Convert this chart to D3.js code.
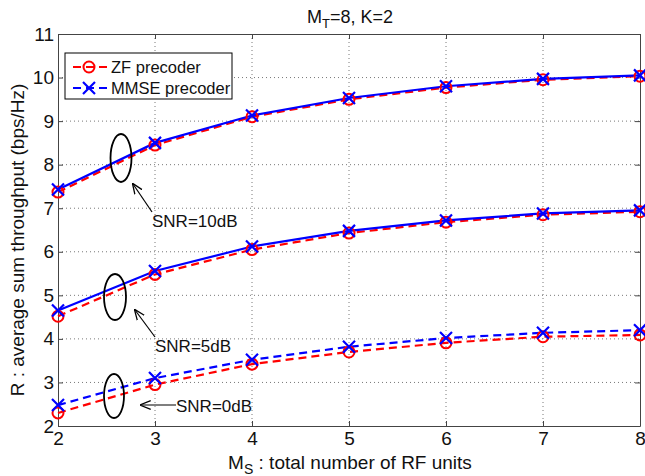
<!DOCTYPE html>
<html>
<head>
<meta charset="utf-8">
<script src="https://cdn.jsdelivr.net/npm/d3@7"></script>
<style>
  body { margin: 0; background: #fff; }
  svg { font-family: "Liberation Sans", Arial, sans-serif; }
</style>
</head>
<body>
<svg width="645" height="476"></svg>
<script>
// x values: number of RF units
const rfUnits = [2, 3, 4, 5, 6, 7, 8];

// ZF / MMSE throughput for each SNR
const zf10 = [7.37, 8.45, 9.10, 9.50, 9.77, 9.95, 10.03];
const mmse10 = [7.43, 8.50, 9.13, 9.53, 9.80, 9.97, 10.05];
const zf5 = [4.52, 5.48, 6.05, 6.43, 6.68, 6.85, 6.92];
const mmse5 = [4.65, 5.56, 6.12, 6.48, 6.72, 6.88, 6.95];
const zf0 = [2.30, 2.95, 3.42, 3.70, 3.91, 4.05, 4.09];
const mmse0 = [2.48, 3.10, 3.52, 3.82, 4.02, 4.14, 4.20];

const xTicks = [2, 3, 4, 5, 6, 7, 8];
const yTicks = [2, 3, 4, 5, 6, 7, 8, 9, 10, 11];

const series = [
  {vals: zf10, type: "zf", dash: true},
  {vals: mmse10, type: "mmse", dash: false},
  {vals: zf5, type: "zf", dash: true},
  {vals: mmse5, type: "mmse", dash: false},
  {vals: zf0, type: "zf", dash: true},
  {vals: mmse0, type: "mmse", dash: true}
];

const margin = {top: 34, left: 58, right: 5, bottom: 50};
const w = 645, h = 476;
const innerWidth = w - margin.left - margin.right;
const innerHeight = h - margin.top - margin.bottom;

const svg = d3.select("svg");
const g = svg.append("g")
  .attr("transform", `translate(${margin.left},${margin.top})`);

const xScale = d3.scaleLinear().domain([2, 8]).range([0, innerWidth]);
const yScale = d3.scaleLinear().domain([2, 11]).range([innerHeight, 0]);

// grid
g.selectAll(".gx").data(xTicks.slice(1, -1)).enter().append("line")
  .attr("x1", d => xScale(d)).attr("x2", d => xScale(d))
  .attr("y1", 0).attr("y2", innerHeight)
  .attr("stroke", "#555").attr("stroke-width", 0.8)
  .attr("stroke-dasharray", "1,3");
g.selectAll(".gy").data(yTicks.slice(1, -1)).enter().append("line")
  .attr("y1", d => yScale(d)).attr("y2", d => yScale(d))
  .attr("x1", 0).attr("x2", innerWidth)
  .attr("stroke", "#555").attr("stroke-width", 0.8)
  .attr("stroke-dasharray", "1,3");

// axes
g.append("g").attr("transform", `translate(0,${innerHeight})`)
  .call(d3.axisBottom(xScale).tickValues(xTicks).tickFormat(d3.format("d"))
    .tickSizeInner(-5).tickSizeOuter(0).tickPadding(6));
g.append("g")
  .call(d3.axisLeft(yScale).tickValues(yTicks).tickFormat(d3.format("d"))
    .tickSizeInner(-5).tickSizeOuter(0).tickPadding(4));
g.append("g").attr("transform", `translate(${innerWidth},0)`)
  .call(d3.axisRight(yScale).tickValues(yTicks).tickFormat("")
    .tickSizeInner(-5).tickSizeOuter(0));
g.append("g")
  .call(d3.axisTop(xScale).tickValues(xTicks).tickFormat("")
    .tickSizeInner(-5).tickSizeOuter(0));
g.selectAll(".domain").attr("stroke", "#444");
g.selectAll(".tick line").attr("stroke", "#444");
g.selectAll(".tick text").attr("fill", "#111").style("font-size", "19px")
  .style("font-family", "Liberation Sans, Arial, sans-serif");

// lines
const line = d3.line()
  .x((d, i) => xScale(rfUnits[i]))
  .y(d => yScale(d));

series.forEach(s => {
  g.append("path")
    .datum(s.vals)
    .attr("d", line)
    .attr("fill", "none")
    .attr("stroke", s.type == "zf" ? "#f00" : "#00f")
    .attr("stroke-width", 2.2)
    .attr("stroke-dasharray", s.dash ? "8,5" : null);
});

function drawMarker(sel, type, x, y) {
  if (type == "zf") {
    sel.append("circle").attr("cx", x).attr("cy", y).attr("r", 5.5)
      .attr("fill", "none").attr("stroke", "#f00").attr("stroke-width", 2);
  } else {
    const s = 6;
    sel.append("path")
      .attr("d", `M${x - s},${y - s}L${x + s},${y + s}M${x - s},${y + s}L${x + s},${y - s}`)
      .attr("stroke", "#00f").attr("stroke-width", 2.2);
  }
}

series.forEach(s => {
  s.vals.forEach((v, i) => drawMarker(g, s.type, xScale(rfUnits[i]), yScale(v)));
});

// annotations: ellipses, arrows, labels
svg.append("defs").append("marker")
  .attr("id", "arr").attr("viewBox", "0 0 10 10")
  .attr("refX", 9).attr("refY", 5)
  .attr("markerWidth", 9).attr("markerHeight", 9)
  .attr("orient", "auto")
  .append("path").attr("d", "M0,1L10,5L0,9").attr("fill", "none")
  .attr("stroke", "#000").attr("stroke-width", 1.2);

const annots = [
  {cx: 121, cy: 158, rx: 10.5, ry: 24, ax1: 152, ay1: 212, ax2: 133, ay2: 184, tx: 152, ty: 227, label: "SNR=10dB"},
  {cx: 115, cy: 297, rx: 11, ry: 23, ax1: 155, ay1: 337, ax2: 135, ay2: 310, tx: 155, ty: 352, label: "SNR=5dB"},
  {cx: 114, cy: 396, rx: 10, ry: 22, ax1: 176, ay1: 405, ax2: 141, ay2: 405, tx: 176, ty: 412, label: "SNR=0dB"}
];
annots.forEach(a => {
  svg.append("ellipse").attr("cx", a.cx).attr("cy", a.cy).attr("rx", a.rx).attr("ry", a.ry)
    .attr("fill", "none").attr("stroke", "#000").attr("stroke-width", 1.8);
  svg.append("line").attr("x1", a.ax1).attr("y1", a.ay1).attr("x2", a.ax2).attr("y2", a.ay2)
    .attr("stroke", "#000").attr("stroke-width", 1.2).attr("marker-end", "url(#arr)");
  svg.append("text").attr("x", a.tx).attr("y", a.ty).text(a.label)
    .style("font-size", "17px").attr("fill", "#111");
});

// legend
const leg = svg.append("g").attr("transform", "translate(65,53)");
leg.append("rect").attr("width", 167).attr("height", 46)
  .attr("fill", "#fff").attr("stroke", "#000").attr("stroke-width", 1);
const legItems = [
  {type: "zf", label: "ZF precoder", y: 14},
  {type: "mmse", label: "MMSE precoder", y: 35}
];
legItems.forEach(d => {
  leg.append("line").attr("x1", 7).attr("x2", 42).attr("y1", d.y).attr("y2", d.y)
    .attr("stroke", d.type == "zf" ? "#f00" : "#00f").attr("stroke-width", 2.2)
    .attr("stroke-dasharray", "8,5").attr("stroke-dashoffset", -1);
  drawMarker(leg, d.type, 24, d.y);
  leg.append("text").attr("x", 46).attr("y", d.y + 6).text(d.label)
    .style("font-size", "16.5px").attr("fill", "#111");
});

// title
const title = svg.append("text").attr("x", 350).attr("y", 23)
  .attr("text-anchor", "middle").style("font-size", "18px").attr("fill", "#111");
title.append("tspan").text("M");
title.append("tspan").text("T").attr("dy", 5).style("font-size", "13px");
title.append("tspan").text("=8, K=2").attr("dy", -5);

// axis labels
const xl = svg.append("text").attr("x", 350).attr("y", 469)
  .attr("text-anchor", "middle").style("font-size", "19px").attr("fill", "#111");
xl.append("tspan").text("M");
xl.append("tspan").text("S").attr("dy", 5).style("font-size", "14px");
xl.append("tspan").text(" : total number of RF units").attr("dy", -5);

svg.append("text")
  .attr("transform", "translate(24,240)rotate(-90)")
  .attr("text-anchor", "middle").style("font-size", "19px").attr("fill", "#111")
  .text("R : average sum throughput (bps/Hz)");
</script>
</body>
</html>
